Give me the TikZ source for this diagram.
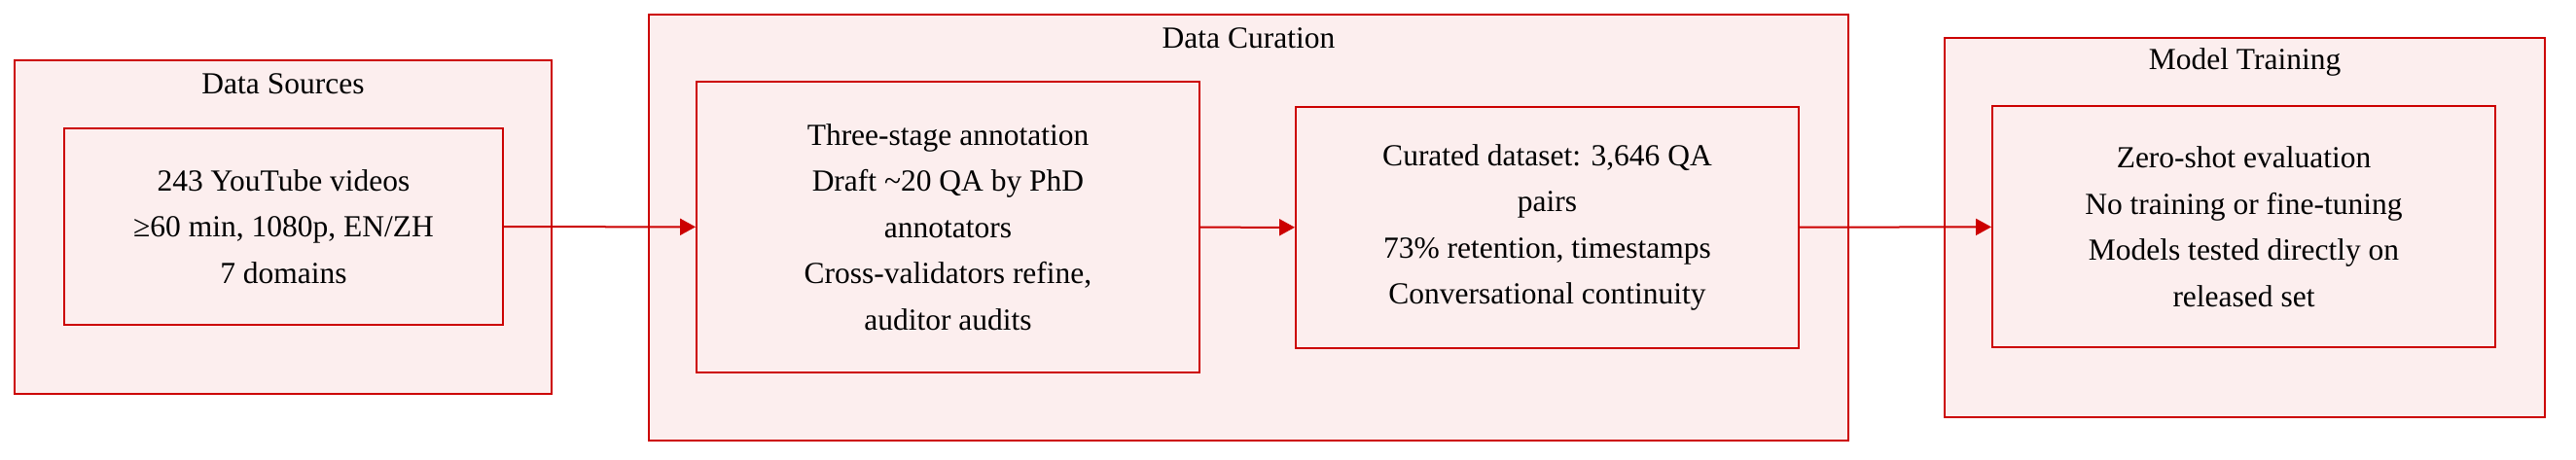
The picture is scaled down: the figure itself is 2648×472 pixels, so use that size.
\documentclass[tikz,border=0pt]{standalone}
\usepackage{fontspec}
\setmainfont{Liberation Serif}
\usetikzlibrary{positioning,arrows.meta}
\definecolor{stagered}{RGB}{204,0,0}
\definecolor{stagefill}{RGB}{252,238,238}
\tikzset{group/.style={draw=stagered,fill=stagefill,line width=2pt,inner sep=0pt}}
\tikzset{stagebox/.style={group,align=center,font=\fontsize{31.5}{47.5}\selectfont}}
\tikzset{grouptitle/.style={font=\fontsize{31.5}{38}\selectfont,inner sep=0pt}}
\tikzset{flow/.style={-{Triangle[length=16pt,width=17pt]},draw=stagered,line width=2pt}}

\begin{document}
\begin{tikzpicture}[x=1pt,y=-1pt]
\useasboundingbox (0,0) rectangle (2648,472);
% outer groups
\node[group,minimum width=552pt,minimum height=343pt] (sources) at (291,233.5) {};
\node[group,minimum width=1233pt,minimum height=438pt] (curation) at (1283.5,234) {};
\node[group,minimum width=617pt,minimum height=390pt] (training) at (2307.5,234) {};
\node[grouptitle] (sourcestitle) at (291,86) {Data Sources};
\node[grouptitle] (curationtitle) at (1283.5,39) {Data Curation};
\node[grouptitle] (trainingtitle) at (2307.5,64) {Model Training};

% stages
\node[stagebox,minimum width=451pt,minimum height=202pt] (videos) at (291.5,233) {243 YouTube videos\\ ≥60 min, 1080p, EN/ZH\\ 7 domains};
\node[stagebox,minimum width=517pt,minimum height=299pt] (annot) at (974.5,233.5) {Three-stage annotation\\ Draft \textasciitilde 20 QA by PhD\\ annotators\\ Cross-validators refine,\\ auditor audits};
\node[stagebox,minimum width=517pt,minimum height=248pt] (dataset) at (1590.5,234) {Curated dataset: 3,646 QA\\ pairs\\ 73\% retention, timestamps\\ Conversational continuity};
\node[stagebox,minimum width=517pt,minimum height=248pt] (zeroshot) at (2306.5,233) {Zero-shot evaluation\\ No training or fine-tuning\\ Models tested directly on\\ released set};

\draw[flow] (videos) -- (annot);
\draw[flow] (annot) -- (dataset);
\draw[flow] (dataset) -- (zeroshot);
\end{tikzpicture}
\end{document}
